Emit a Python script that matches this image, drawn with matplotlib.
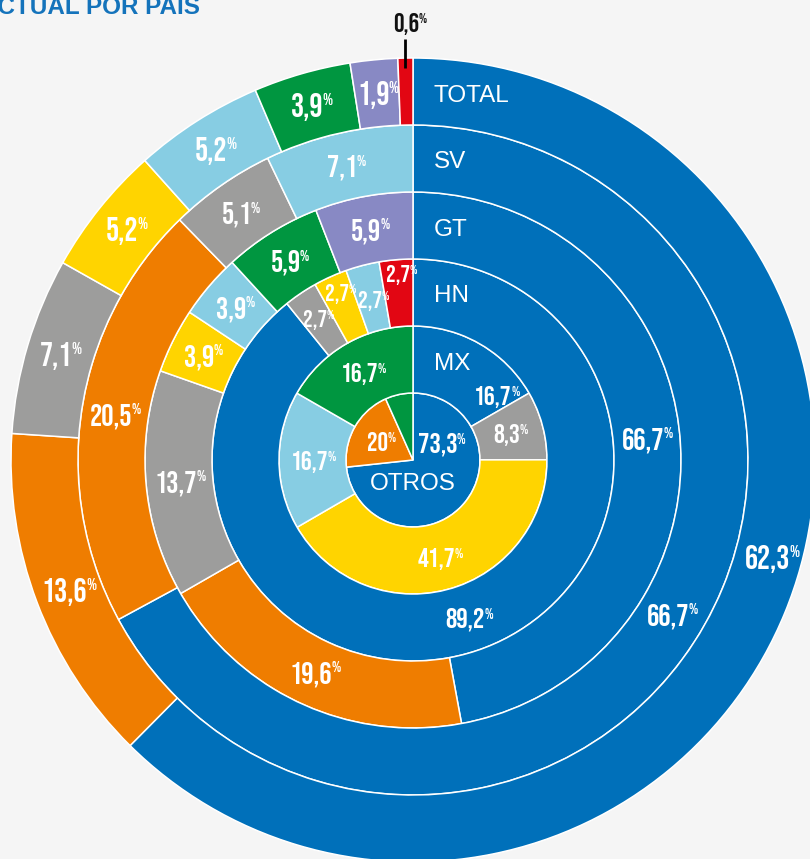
import numpy as np
import matplotlib.pyplot as plt

BLUE = '#0070ba'
ORANGE = '#ef7d00'
GRAY = '#9d9d9c'
YELLOW = '#ffd400'
LIGHTBLUE = '#87cde3'
GREEN = '#009640'
PURPLE = '#8889c4'
RED = '#e20613'
BG = '#f5f5f5'

NUM_FONT = ['Bebas Neue', 'DejaVu Sans']
NAME_FONT = ['Liberation Sans', 'DejaVu Sans']

# rings from the centre outwards
ring_names = ['OTROS', 'MX', 'HN', 'GT', 'SV', 'TOTAL']

otros_vals = [73.3, 20.0, 6.7]
otros_colors = [BLUE, ORANGE, GREEN]
otros_labels = ['73,3', '20', '']

mx_vals = [16.7, 8.3, 41.7, 16.7, 16.7]
mx_colors = [BLUE, GRAY, YELLOW, LIGHTBLUE, GREEN]
mx_labels = ['16,7', '8,3', '41,7', '16,7', '16,7']

hn_vals = [89.2, 2.7, 2.7, 2.7, 2.7]
hn_colors = [BLUE, GRAY, YELLOW, LIGHTBLUE, RED]
hn_labels = ['89,2', '2,7', '2,7', '2,7', '2,7']

# the blue GT slice is drawn at ~47% in the original although it is labelled 66,7%
gt_vals = [47.1, 19.6, 13.7, 3.9, 3.9, 5.9, 5.9]
gt_colors = [BLUE, ORANGE, GRAY, YELLOW, LIGHTBLUE, GREEN, PURPLE]
gt_labels = ['66,7', '19,6', '13,7', '3,9', '3,9', '5,9', '5,9']

sv_vals = [66.7, 20.5, 5.1, 7.1]
sv_colors = [BLUE, ORANGE, GRAY, LIGHTBLUE]
sv_labels = ['66,7', '20,5', '5,1', '7,1']

total_vals = [62.3, 13.6, 7.1, 5.2, 5.2, 3.9, 1.9, 0.6]
total_colors = [BLUE, ORANGE, GRAY, YELLOW, LIGHTBLUE, GREEN, PURPLE, RED]
total_labels = ['62,3', '13,6', '7,1', '5,2', '5,2', '3,9', '1,9', '']
small_label = '0,6'

rings = [
    (otros_vals, otros_colors, otros_labels),
    (mx_vals, mx_colors, mx_labels),
    (hn_vals, hn_colors, hn_labels),
    (gt_vals, gt_colors, gt_labels),
    (sv_vals, sv_colors, sv_labels),
    (total_vals, total_colors, total_labels),
]

W = 67  # ring width in pixels
label_sizes = [20, 19.5, 20.5, 22, 22, 23.5]
# (ring, slice) -> (angle in degrees, radius, size) for labels moved off the slice middle
overrides = {
    (0, 0): (35, 30, 20.5), (0, 1): (153, 40, 19),
    (1, 0): (39, 103, 19.5),
    (2, 1): (124.6, 172, 17.5), (2, 2): (114.3, 184, 17.5),
    (2, 3): (105, 166, 17.5), (2, 4): (94.6, 187, 17.5),
    (5, 0): (-15.4, 368, 23.5),
}

fig = plt.figure(figsize=(8.1, 8.59), dpi=100, facecolor=BG)
ax = fig.add_axes([0, 0, 1, 1])
ax.set_facecolor(BG)


def pct_label(x, y, num, size, color='white'):
    # x, y is the middle of the number; the small % sits top right of it
    px = size * 100 / 72
    t = ax.text(x, y - 0.35 * px, num, ha='center', va='baseline',
                fontsize=size, color=color, family=NUM_FONT)
    ax.annotate('%', xy=(1, 1), xycoords=t, xytext=(-0.5, 0), textcoords='offset points',
                ha='left', va='top', fontsize=size * 0.52, color=color, family=NUM_FONT)


for i, (vals, cols, labs) in enumerate(rings):
    r_out = W * (i + 1)
    ax.pie(vals, radius=r_out, colors=cols, startangle=90, counterclock=False,
           wedgeprops=dict(width=W, edgecolor='white', linewidth=1.1))
    frac = np.cumsum([0] + vals) / sum(vals)
    for j, lab in enumerate(labs):
        if not lab:
            continue
        size = label_sizes[i]
        if (i, j) in overrides:
            ang, r, size = overrides[(i, j)]
            shift = 0
        else:
            mid = (frac[j] + frac[j + 1]) / 2
            ang = 90 - 360 * mid
            r = r_out - W / 2
            shift = 0.12 * size * 100 / 72
        a = np.deg2rad(ang)
        pct_label(r * np.cos(a) - shift, r * np.sin(a), lab, size)

# ring names
for i, name in enumerate(ring_names):
    if name == 'OTROS':
        ax.text(0, -24, name, ha='center', va='center', fontsize=17.5,
                color='white', family=NAME_FONT)
    else:
        ax.text(21, W * (i + 1) - W / 2 - 4, name, ha='left', va='center',
                fontsize=17.5, color='white', family=NAME_FONT)

# small red slice label outside the chart
ax.plot([-8, -8], [392, 421], color='black', lw=2, solid_capstyle='butt')
pct_label(-7, 437, small_label, 19, color='#111111')

ax.text(200 - 413, 460 - 14, 'ACTUAL POR PAÍS', ha='right', va='baseline',
        fontsize=17.5, fontweight='bold', color='#1473bb', family=NAME_FONT)

ax.set_xlim(-413, 397)
ax.set_ylim(-399, 460)
ax.set_aspect('equal')
ax.axis('off')

fig.savefig('out.png', dpi=100, facecolor=BG)
